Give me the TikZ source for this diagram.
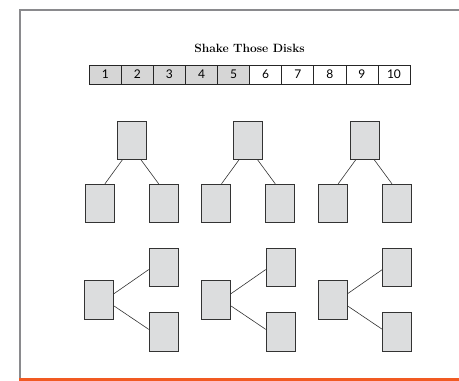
\documentclass[tikz,border=0pt]{standalone}
\usepackage{fontspec}
\newfontfamily\digitfont{Lato}
\definecolor{diskgray}{HTML}{DCDDDE}
\definecolor{cellgray}{HTML}{D6D6D6}
\definecolor{framegray}{HTML}{8A8A8D}
\definecolor{barorange}{HTML}{F15A22}
\begin{document}
\begin{tikzpicture}[x=1pt,y=-1pt,
  disk/.style={draw=black!80, fill=diskgray, minimum width=29pt, minimum height=38.5pt, inner sep=0pt, line width=0.8pt},
  cell/.style={draw=black!85, line width=0.7pt, minimum width=32.07pt, minimum height=19pt, inner sep=0pt, font=\digitfont\fontsize{12}{12}\selectfont},
  link/.style={draw=black!80, line width=0.6pt}]
\useasboundingbox (0,0) rectangle (459,381);
% frame
\draw[framegray, line width=2pt] (20,378) -- (20,10) -- (459,10);
\draw[barorange, line width=3pt] (19,379.5) -- (459,379.5);
% title
\node[font=\bfseries\fontsize{12}{14}\selectfont] (title) at (249.5,48.5) {Shake Those Disks};
% number strip
\foreach \i in {1,...,10}{
  \pgfmathsetmacro{\cx}{89.3+32.07*(\i-0.5)}
  \ifnum\i<6
    \node[cell, fill=cellgray] (c\i) at (\cx,74.5) {\i};
  \else
    \node[cell, fill=white] (c\i) at (\cx,74.5) {\i};
  \fi
}
% top trees
\foreach \n/\px in {a/131.7, b/248.3, c/365}{
  \node[disk] (\n p) at (\px,140.3) {};
  \node[disk] (\n l) at (\px-32,203.5) {};
  \node[disk] (\n r) at (\px+32,203.5) {};
  \draw[link] ([xshift=-9.4pt]\n p.south) -- ([xshift=5.2pt]\n l.north);
  \draw[link] ([xshift=9.4pt]\n p.south) -- ([xshift=-5pt]\n r.north);
}
% bottom trees
\foreach \n/\px in {d/99.2, e/216.2, f/332.8}{
  \node[disk] (\n p) at (\px,300) {};
  \node[disk] (\n t) at (\px+64.5,267.5) {};
  \node[disk] (\n b) at (\px+64.5,331.8) {};
  \draw[link] ([yshift=6.4pt]\n p.east) -- ([yshift=-2pt]\n t.west);
  \draw[link] ([yshift=-6pt]\n p.east) -- ([yshift=2.4pt]\n b.west);
}
\end{tikzpicture}
\end{document}
